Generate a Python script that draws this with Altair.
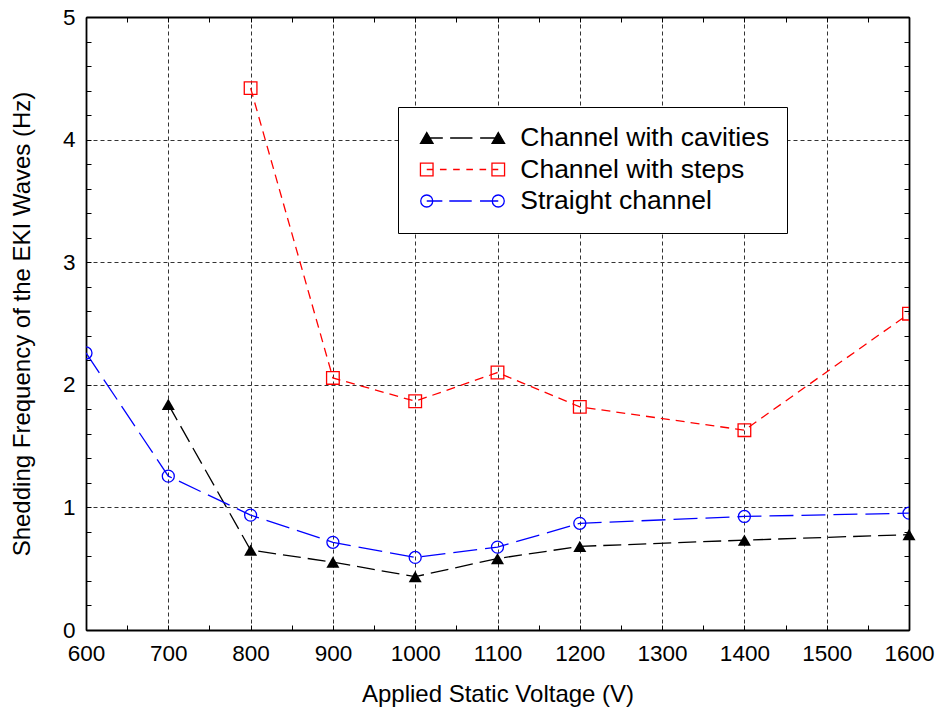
import altair as alt
import pandas as pd

FONT = "Liberation Sans"

# ---------------- data ----------------
series_names = ["Channel with cavities", "Channel with steps", "Straight channel"]
series_colors = ["black", "red", "blue"]

cav_voltage = [700, 800, 900, 1000, 1100, 1200, 1400, 1600]
cav_freq = [1.84, 0.652, 0.553, 0.435, 0.583, 0.682, 0.733, 0.778]

steps_voltage = [800, 900, 1000, 1100, 1200, 1400, 1600]
steps_freq = [4.42, 2.056, 1.866, 2.10, 1.82, 1.63, 2.58]

straight_voltage = [600, 700, 800, 900, 1000, 1100, 1200, 1400, 1600]
straight_freq = [2.26, 1.255, 0.937, 0.715, 0.592, 0.676, 0.87, 0.926, 0.953]

x_major = [600, 700, 800, 900, 1000, 1100, 1200, 1300, 1400, 1500, 1600]
x_minor = [600, 650, 700, 750, 800, 850, 900, 950, 1000, 1050, 1100, 1150,
           1200, 1250, 1300, 1350, 1400, 1450, 1500, 1550, 1600]
y_major = [0, 1, 2, 3, 4, 5]
y_minor = [0, 0.2, 0.4, 0.6, 0.8, 1, 1.2, 1.4, 1.6, 1.8, 2, 2.2, 2.4, 2.6, 2.8,
           3, 3.2, 3.4, 3.6, 3.8, 4, 4.2, 4.4, 4.6, 4.8, 5]

x_title = "Applied Static Voltage (V)"
y_title = "Shedding Frequency of the EKI Waves (Hz)"

# ---------------- layout ----------------
W, H = 823, 613
PAD = {"left": 86, "top": 17, "right": 29, "bottom": 89}

xs = alt.Scale(domain=[600, 1600], nice=False, zero=False)
ys = alt.Scale(domain=[0, 5], nice=False, zero=False)

df_cav = pd.DataFrame({"v": cav_voltage, "f": cav_freq})
df_steps = pd.DataFrame({"v": steps_voltage, "f": steps_freq})
df_straight = pd.DataFrame({"v": straight_voltage, "f": straight_freq})

grid_kw = dict(grid=True, gridDash=[4, 3], gridColor="#333333", gridWidth=1)

main_x = alt.Axis(orient="bottom", values=x_major, format="d", ticks=False, tickSize=0,
                  domain=True, domainColor="black", domainWidth=1.8, labelFlush=False,
                  labelFont=FONT, labelFontSize=22.5, labelColor="black", labelPadding=12,
                  title=x_title, titleFont=FONT, titleFontSize=24, titleFontWeight="normal",
                  titleColor="black", titlePadding=18, **grid_kw)
main_y = alt.Axis(orient="left", values=y_major, format="d", ticks=False, tickSize=0,
                  domain=True, domainColor="black", domainWidth=1.8, labelFlush=False,
                  labelFont=FONT, labelFontSize=22.5, labelColor="black", labelPadding=11,
                  title=y_title, titleFont=FONT, titleFontSize=24, titleFontWeight="normal",
                  titleColor="black", titlePadding=28, **grid_kw)

# inward tick axes on the bottom/left edges
tick_bottom = alt.Axis(orient="top", offset=-H, values=x_minor, labels=False, domain=False,
                       grid=False, ticks=True, tickSize=5, tickWidth=1, tickColor="black", title=None)
tick_left = alt.Axis(orient="right", offset=-W, values=y_minor, labels=False, domain=False,
                     grid=False, ticks=True, tickSize=5, tickWidth=1, tickColor="black", title=None)
# frame on top/right edges with inward ticks
frame_top = alt.Axis(orient="bottom", offset=-H, values=x_minor, labels=False, domain=True,
                     domainColor="black", domainWidth=1.8, grid=False, ticks=True, tickSize=5,
                     tickWidth=1, tickColor="black", title=None)
frame_right = alt.Axis(orient="left", offset=-W, values=y_minor, labels=False, domain=True,
                       domainColor="black", domainWidth=1.8, grid=False, ticks=True, tickSize=5,
                       tickWidth=1, tickColor="black", title=None)


def enc(chart, xaxis=None, yaxis=None):
    return chart.encode(
        x=alt.X("v:Q", scale=xs, axis=xaxis),
        y=alt.Y("f:Q", scale=ys, axis=yaxis),
    )


line_cav = enc(alt.Chart(df_cav).mark_line(color="black", strokeWidth=1.3, strokeDash=[18, 7], clip=True),
               main_x, main_y)
line_steps = enc(alt.Chart(df_steps).mark_line(color="red", strokeWidth=1.3, strokeDash=[9, 6], clip=True),
                 tick_bottom, tick_left)
line_straight = enc(alt.Chart(df_straight).mark_line(color="blue", strokeWidth=1.3, strokeDash=[24, 8], clip=True),
                    frame_top, frame_right)

pts_cav = enc(alt.Chart(df_cav).mark_point(shape="triangle-up", filled=True, color="black",
                                            size=169, opacity=1))
pts_steps = enc(alt.Chart(df_steps).mark_point(shape="square", filled=False, color="red", size=160,
                                                strokeWidth=1.3, opacity=1, clip=True))
pts_straight = enc(alt.Chart(df_straight).mark_point(shape="circle", filled=False, color="blue", size=144,
                                                      strokeWidth=1.3, opacity=1, clip=True))

# ---------------- legend symbols (line with a marker at each end) ----------------
U = 2.98   # marker centre offset, in symbol units
M = 0.525  # marker half size


def seg(a, b):
    return f"M{a:.3f},0L{b:.3f},0"


def tri(cx):
    h = 0.455
    return f"M{cx - M:.3f},{h:.3f}L{cx:.3f},{-h:.3f}L{cx + M:.3f},{h:.3f}Z"


def sq(cx):
    return (f"M{cx - M:.3f},{-M:.3f}L{cx + M:.3f},{-M:.3f}"
            f"L{cx + M:.3f},{M:.3f}L{cx - M:.3f},{M:.3f}Z")


def circ(cx):
    r = 0.5
    return f"M{cx + r:.3f},0A{r},{r} 0 1,1 {cx - r:.3f},0A{r},{r} 0 1,1 {cx + r:.3f},0"


def dashed(a, b, d, g):
    out, p = "", a
    while p < b:
        out += seg(p, min(p + d, b))
        p += d + g
    return out


path_cav = tri(-U) + tri(U) + seg(-U, -1.64) + seg(-1.03, 0.83) + seg(1.47, U)
path_steps = sq(-U) + sq(U) + dashed(-U, U, 0.55, 0.55)
path_straight = circ(-U) + circ(U) + seg(-U, -1.68) + seg(-1.1, 0.77) + seg(1.46, U)

leg = alt.Legend(title=None, orient="none", legendX=312, legendY=90, direction="vertical",
                 padding=17.75, rowPadding=4.5, symbolOffset=33.5, labelOffset=44.5,
                 symbolSize=576, symbolStrokeWidth=1.3, symbolOpacity=1,
                 labelFont=FONT, labelFontSize=26.5, labelColor="black", labelLimit=500,
                 strokeColor="black", fillColor="white", cornerRadius=0)

legend_layer = alt.Chart(pd.DataFrame({"series": series_names})).transform_filter("false").mark_point(
    size=576, opacity=1, filled=False, strokeWidth=1.3
).encode(
    shape=alt.Shape("series:N", scale=alt.Scale(domain=series_names,
                                                range=[path_cav, path_steps, path_straight]), legend=leg),
    stroke=alt.Stroke("series:N", scale=alt.Scale(domain=series_names, range=series_colors), legend=leg),
    fill=alt.Fill("series:N", scale=alt.Scale(domain=series_names,
                                              range=["black", "transparent", "transparent"]), legend=leg),
)

chart = alt.layer(
    line_cav, line_steps, line_straight, pts_cav, pts_steps, pts_straight, legend_layer
).resolve_axis(
    x="independent", y="independent"
).properties(
    width=W, height=H,
    autosize=alt.AutoSizeParams(type="none"),
    padding=PAD,
    background="white",
).configure_view(stroke="transparent")

chart.save("out.html", embed_options={"renderer": "svg", "actions": False})
